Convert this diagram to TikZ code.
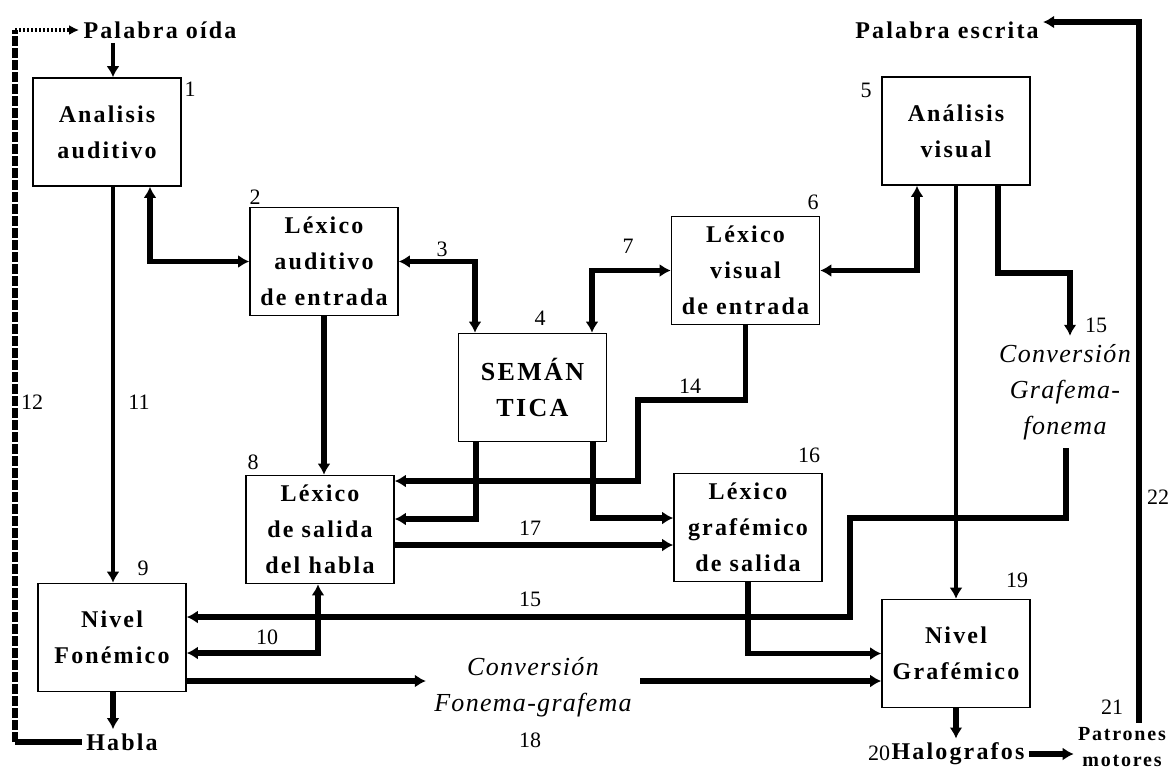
\documentclass[tikz,border=0pt]{standalone}
\usepackage{fontspec}
\setmainfont{Liberation Serif}
\newfontfamily\espaciada[LetterSpace=9]{Liberation Serif}
\newfontfamily\cursiva[LetterSpace=5]{Liberation Serif}
\usetikzlibrary{arrows,arrows.meta,positioning,calc}

\tikzset{
  caja/.style={draw, line width=0.8pt, minimum width=74pt, minimum height=54pt,
    inner sep=1pt, align=center, font=\espaciada\bfseries\fontsize{12}{18}\selectfont},
  rotulo/.style={inner sep=2pt, align=center, font=\espaciada\bfseries\fontsize{12}{15}\selectfont},
  conv/.style={inner sep=4pt, align=center, font=\cursiva\itshape\fontsize{13}{18}\selectfont},
  num/.style={inner sep=0pt, font=\fontsize{11}{13}\selectfont},
  conn/.style={line width=2.7pt},
  connfino/.style={line width=1.6pt}
}

\begin{document}
\begin{tikzpicture}[>={Latex[length=5.5pt,width=6.5pt]},x=0.5pt,y=-0.5pt]
  \useasboundingbox (0,0) rectangle (1174,773);
%%
  % Node: aa
  \node[caja] (aa) at (107,132) {Analisis\\auditivo};
  \node[num] (n1) at (190,89) {1};
  % Node: lae
  \node[caja] (lae) at (324,261.5) {Léxico\\auditivo\\de entrada};
  \node[num] (n2) at (255,197) {2};
  % Node: sem
  \node[caja, font=\espaciada\bfseries\fontsize{13}{18}\selectfont] (sem) at (532.5,387.5) {SEMÁN\\TICA};
  \node[num] (n4) at (540,318) {4};
  % Node: lve
  \node[caja] (lve) at (745.5,270.5) {Léxico\\visual\\de entrada};
  \node[num] (n6) at (813,202) {6};
  % Node: av
  \node[caja] (av) at (956,131) {Análisis\\visual};
  \node[num] (n5) at (866,90) {5};
  % Node: lsh
  \node[caja] (lsh) at (320,529.5) {Léxico\\de salida\\del habla};
  \node[num] (n8) at (253,462) {8};
  % Node: lgs
  \node[caja] (lgs) at (748,527.5) {Léxico\\grafémico\\de salida};
  \node[num] (n16) at (809,455) {16};
  % Node: nf
  \node[caja] (nf) at (112,637.5) {Nivel\\Fonémico};
  \node[num] (n9) at (143,568) {9};
  % Node: ng
  \node[caja] (ng) at (956,653.5) {Nivel\\Grafémico};
  \node[num] (n19) at (1017,580) {19};
  % Node: textos
  \node[rotulo] (po) at (160,30) {Palabra oída};
  \node[rotulo] (pe) at (947,30) {Palabra escrita};
  \node[rotulo] (habla) at (122,742) {Habla};
  \node[rotulo] (halo) at (958,754) {Halografos};
  \node[num] (n20) at (879,753) {20};
  \node[rotulo, font=\espaciada\bfseries\fontsize{10}{13}\selectfont] (pm) at (1122,747) {Patrones\\motores};
  \node[num] (n21) at (1112,707) {21};
  \node[conv] (cgf) at (1065,392) {Conversión\\Grafema-\\fonema};
  \node[conv] (cfg) at (533,687.5) {Conversión\\Fonema-grafema};
%%
  % Edge: po -> aa
  \draw[connfino,->] (113,0 |- po.south) -- (113,0 |- aa.north);
  % Edge: aa <-> lae
  \draw[conn,<->] (aa.south -| 150,0) |- (lae.west);
  % Edge: lae <-> sem
  \draw[conn,<->] (lae.east) -| (sem.north -| 475,0);
  \node[num] (n3) at (442,249) {3};
  % Edge: sem <-> lve
  \draw[conn,<->] (sem.north -| 592,0) |- (lve.west);
  \node[num] (n7) at (628,246) {7};
  % Edge: lve <-> av
  \draw[conn,<->] (lve.east) -| (av.south -| 917,0);
  % Edge: av -> ng
  \draw[connfino,->] (av.south) -- (ng.north);
  % Edge: av -> cgf
  \draw[conn,->] (av.south -| 998,0) |- (1070,273) -- (cgf.north -| 1070,0);
  \node[num] (n15a) at (1096,325) {15};
  % Edge: cgf -> nf
  \draw[conn,->] (cgf.south -| 1066,0) |- (850,518) -- (850,617) -- (nf.east |- 0,617);
  \node[num] (n15b) at (530,599) {15};
  % Edge: aa -> nf
  \draw[connfino,->] (aa.south -| 113,0) -- (nf.north -| 113,0);
  \node[num] (n11) at (139,402) {11};
  % Edge: lsh <-> nf
  \draw[conn,<->] (lsh.south -| 318,0) |- (nf.east |- 0,653);
  \node[num] (n10) at (267,637) {10};
  % Edge: nf -> habla
  \draw[conn,->] (nf.south -| 113,0) -- (113,0 |- habla.north);
  % Edge: habla -> po (12)
  \draw[conn] (habla.west) -- (15,0 |- habla.west);
  \draw[conn, dash pattern=on 5pt off 1pt] (15,0 |- habla.west) -- (15,0 |- po.west);
  \draw[connfino, dash pattern=on 1pt off 1pt, -{Latex[length=5pt,width=5pt]}] (15,0 |- po.west) -- (po.west);
  \node[num] (n12) at (32,402) {12};
  % Edge: lae -> lsh
  \draw[conn,->] (lae.south) -- (lae.south |- lsh.north);
  % Edge: lve -> lsh (14)
  \draw[conn,->] (lve.south) |- (638,400) |- (lsh.east |- 0,481);
  \node[num] (n14) at (690,386) {14};
  % Edge: sem -> lsh
  \draw[conn,->] (sem.south -| 476,0) |- (lsh.east |- 0,519);
  % Edge: sem -> lgs
  \draw[conn,->] (sem.south -| 593,0) |- (lgs.west |- 0,518);
  % Edge: lsh -> lgs
  \draw[conn,->] (lsh.east |- 0,545) -- (lgs.west |- 0,545);
  \node[num] (n17) at (530,528) {17};
  % Edge: nf -> cfg
  \draw[conn,->] (nf.east |- 0,681) -- (cfg.west |- 0,681);
  % Edge: cfg -> ng
  \draw[conn,->] (cfg.east |- 0,681) -- (ng.west |- 0,681);
  \node[num] (n18) at (530,740) {18};
  % Edge: lgs -> ng
  \draw[conn,->] (lgs.south) |- (ng.west);
  % Edge: ng -> halo
  \draw[conn,->] (ng.south) -- (ng.south |- halo.north);
  % Edge: halo -> pm
  \draw[conn,->] (halo.east) -- (pm.west |- halo.east);
  % Edge: pm -> pe (22)
  \draw[conn,->] (pm.north -| 1139,0) -- (1139,22) -- (pe.east |- 0,22);
  \node[num] (n22) at (1158,497) {22};
%
\end{tikzpicture}
\end{document}
